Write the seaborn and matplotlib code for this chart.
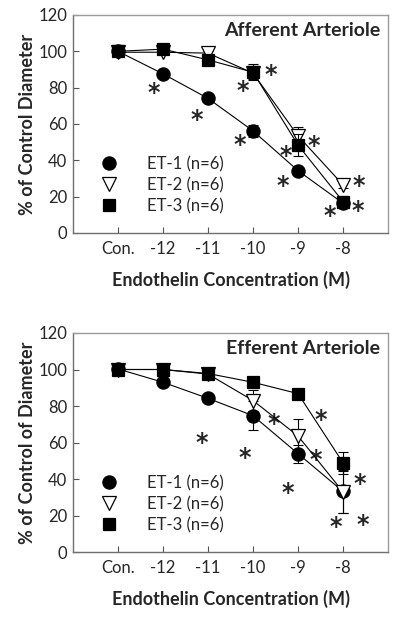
import matplotlib.pyplot as plt
import numpy as np
import pandas as pd
import seaborn as sns
from matplotlib.lines import Line2D

CONC_LABELS = ["Con.", "-12", "-11", "-10", "-9", "-8"]
AGENTS = ["ET-1 (n=6)", "ET-2 (n=6)", "ET-3 (n=6)"]

# afferent arteriole, % of control diameter
AFF_ET1 = [100, 87.6, 74.1, 56.2, 34.3, 16.4]
AFF_ET2 = [99.5, 99.5, 99.0, 88.0, 53.5, 26.5]
AFF_ET3 = [100, 101.2, 95.3, 88.5, 48.4, 17.3]
AFF_ET1_ERR = [0.5, 1, 1, 3.5, 1.5, 2]
AFF_ET2_ERR = [0.5, 1, 1, 3, 5, 2]
AFF_ET3_ERR = [0.5, 1, 1, 4.5, 6, 3]

# efferent arteriole, % of control of diameter
EFF_ET1 = [100.3, 93.0, 84.2, 74.7, 53.9, 33.2]
EFF_ET2 = [100, 100, 97.5, 83.0, 63.6, 33.0]
EFF_ET3 = [100, 100, 97.8, 93.0, 86.8, 48.9]
EFF_ET1_ERR = [1, 1, 2, 8, 5, 12]
EFF_ET2_ERR = [1, 1, 1, 6, 9.5, 11.5]
EFF_ET3_ERR = [0.5, 0.5, 1, 1, 1, 6]

# significance asterisks (x in concentration index units, y in %)
AFF_STARS_X = [0.79, 1.74, 2.70, 2.78, 3.39, 3.72, 4.36, 3.65, 4.70, 5.36, 5.33]
AFF_STARS_Y = [80.7, 65.7, 52.0, 81.8, 90.3, 46.0, 51.6, 29.6, 13.1, 29.2, 15.5]
EFF_STARS_X = [1.85, 2.82, 3.45, 3.78, 4.40, 4.50, 4.83, 5.38, 5.44]
EFF_STARS_Y = [63.4, 55.2, 73.4, 35.6, 53.9, 75.8, 17.4, 40.5, 18.1]

MARKERS = ["o", "v", "s"]
FACES = ["black", "white", "black"]
SIZES = [9.5, 9.5, 8.5]

sns.set_style("ticks")
plt.rcParams["font.family"] = ["Lato", "DejaVu Sans"]


def draw_panel(ax, series, errors, stars_x, stars_y, title, ylabel):
    x = np.arange(len(CONC_LABELS))
    for i, (vals, err) in enumerate(zip(series, errors)):
        df = pd.DataFrame({"conc": x, "pct": vals})
        z = 3 + i
        ax.errorbar(x, vals, yerr=err, fmt="none", ecolor="black", elinewidth=0.8,
                    capsize=3.5, capthick=0.8, zorder=z)
        sns.lineplot(data=df, x="conc", y="pct", ax=ax, color="black", linewidth=0.8,
                     marker=MARKERS[i], markersize=SIZES[i], markerfacecolor=FACES[i],
                     markeredgecolor="black", markeredgewidth=0.9, zorder=z)

    for sx, sy in zip(stars_x, stars_y):
        ax.text(sx, sy - 3.5, "*", ha="center", va="center", fontsize=17,
                fontweight="bold", family="DejaVu Sans")

    ax.set_xlim(-1, 6)
    ax.set_ylim(0, 120)
    ax.set_xticks(x)
    ax.set_xticklabels(CONC_LABELS)
    ax.set_yticks(range(0, 121, 20))
    ax.tick_params(direction="in", length=4, width=0.8, color="#555555",
                   labelsize=12, pad=6)
    ax.tick_params(axis="y", pad=4)
    for side in ["left", "bottom"]:
        ax.spines[side].set_color("#6e6e6e")
        ax.spines[side].set_linewidth(1.0)
    for side in ["top", "right"]:
        ax.spines[side].set_color("#9a9a9a")
        ax.spines[side].set_linewidth(1.0)

    ax.set_xlabel("Endothelin Concentration (M)", fontsize=13, fontweight="bold", labelpad=10)
    ax.set_ylabel(ylabel, fontsize=13, fontweight="bold", labelpad=2)
    ax.text(0.975, 0.93, title, transform=ax.transAxes, ha="right", va="center",
            fontsize=14, fontweight="bold")

    handles = [Line2D([], [], linestyle="none", marker=MARKERS[i], markersize=SIZES[i],
                      markerfacecolor=FACES[i], markeredgecolor="black", markeredgewidth=0.9)
               for i in range(3)]
    ax.legend(handles, AGENTS, loc="lower left", bbox_to_anchor=(0.04, 0.055),
              frameon=False, fontsize=12, handletextpad=1.3, labelspacing=0.3,
              borderaxespad=0)


fig = plt.figure(figsize=(4.0, 6.17), dpi=100)
ax_top = fig.add_axes([0.1825, 0.6224, 0.7875, 0.3533])
ax_bot = fig.add_axes([0.1825, 0.1053, 0.7875, 0.355])

draw_panel(ax_top, [AFF_ET1, AFF_ET2, AFF_ET3], [AFF_ET1_ERR, AFF_ET2_ERR, AFF_ET3_ERR],
           AFF_STARS_X, AFF_STARS_Y, "Afferent Arteriole", "% of Control Diameter")
draw_panel(ax_bot, [EFF_ET1, EFF_ET2, EFF_ET3], [EFF_ET1_ERR, EFF_ET2_ERR, EFF_ET3_ERR],
           EFF_STARS_X, EFF_STARS_Y, "Efferent Arteriole", "% of Control of Diameter")

fig.savefig("out.png", dpi=100)
